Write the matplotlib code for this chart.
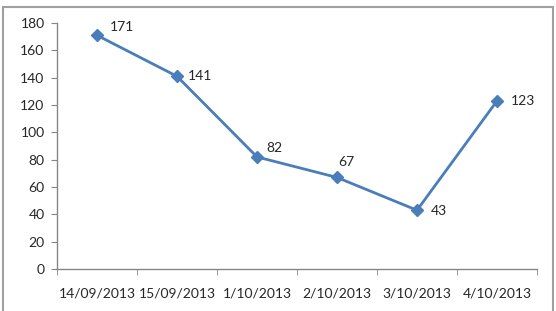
import matplotlib
matplotlib.use("Agg")
from matplotlib import pyplot as plt
from matplotlib.patches import Rectangle
import numpy as np

# data
dates = ["14/09/2013", "15/09/2013", "1/10/2013", "2/10/2013", "3/10/2013", "4/10/2013"]
counts = [171, 141, 82, 67, 43, 123]

# label offsets in pixels (dx, dy)
label_offsets = [(13, 8), (11, 0), (9, 9), (1, 15), (14, -1), (14, 0)]

plt.rcParams['font.family'] = ['Lato', 'DejaVu Sans']
plt.rcParams['font.size'] = 10

fig = plt.figure(figsize=(5.56, 3.11), dpi=100)
ax = fig.add_axes([57 / 556, 42 / 311, 480 / 556, 246 / 311])

x = np.arange(len(dates))
ax.plot(x, counts, color='#4a7ebb', linewidth=2.0, marker='D', markersize=6,
        markerfacecolor='#4a7ebb', markeredgecolor='#4a7ebb', zorder=3)

for xi, v, (dx, dy) in zip(x, counts, label_offsets):
    ax.annotate(str(v), (xi, v), xytext=(dx, dy), textcoords='offset pixels',
                ha='left', va='center', color='#262626', fontsize=10)

ax.set_xlim(-0.5, len(dates) - 0.5)
ax.set_ylim(0, 180)
ax.set_yticks(np.arange(0, 181, 20))

ax.set_xticks(x)
ax.set_xticklabels(dates)
ax.set_xticks(np.arange(-0.5, len(dates), 1), minor=True)
ax.tick_params(axis='x', which='major', length=0, pad=13, colors='#262626')
ax.tick_params(axis='x', which='minor', length=4, direction='out', color='#868686')
ax.tick_params(axis='y', length=4, direction='out', color='#868686', pad=5,
               labelcolor='#262626')

for s in ['top', 'right']:
    ax.spines[s].set_visible(False)
for s in ['left', 'bottom']:
    ax.spines[s].set_color('#868686')
    ax.spines[s].set_linewidth(1.0)

# chart border
fig.add_artist(Rectangle((3 / 556, -0.05), 550 / 556, 1.05 - 7 / 311,
                         transform=fig.transFigure, fill=False,
                         edgecolor='#a0a0a0', linewidth=1.5))

fig.savefig("out.png", dpi=100)
